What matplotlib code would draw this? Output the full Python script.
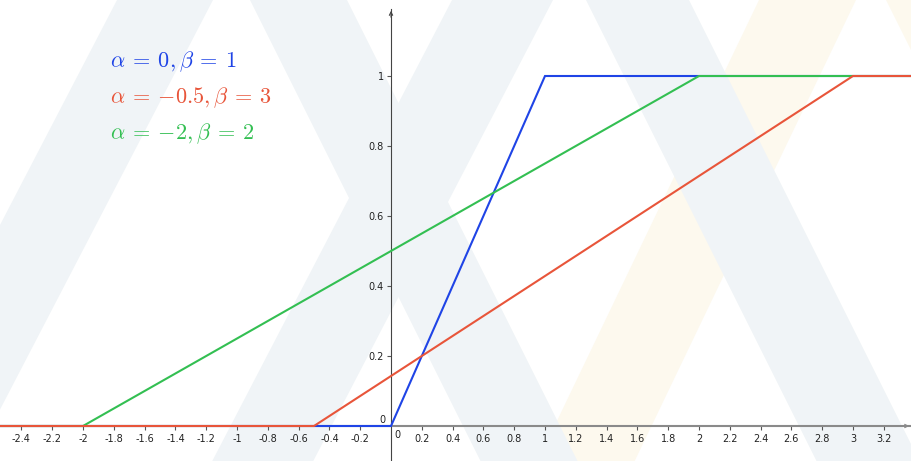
import matplotlib
matplotlib.use("Agg")
import matplotlib.pyplot as plt
from matplotlib.patches import Polygon

plt.rcParams['mathtext.fontset'] = 'cm'
plt.rcParams['font.family'] = ['DejaVu Sans']

# ---- data ----
alphas = [0, -0.5, -2]
betas = [1, 3, 2]
labels = [r'$\alpha \:=\: 0, \beta \:=\: 1$',
          r'$\alpha \:=\: -0.5, \beta \:=\: 3$',
          r'$\alpha \:=\: -2, \beta \:=\: 2$']
colors = ['#1f44e6', '#e8553a', '#33bf52']
draw_order = [0, 2, 1]
xticks = [-2.4, -2.2, -2, -1.8, -1.6, -1.4, -1.2, -1, -0.8, -0.6, -0.4, -0.2,
          0.2, 0.4, 0.6, 0.8, 1, 1.2, 1.4, 1.6, 1.8, 2, 2.2, 2.4, 2.6, 2.8, 3, 3.2]
yticks = [0.2, 0.4, 0.6, 0.8, 1]

W, H = 912, 461
x0px, y0px, sx, sy = 391, 426, 154, 350
xmin, xmax = -x0px / sx, (W - x0px) / sx
ymin, ymax = -(H - y0px) / sy, y0px / sy

fig = plt.figure(figsize=(W / 100, H / 100), dpi=100)
fig.patch.set_facecolor('white')

ax = fig.add_axes([0, 0, 1, 1])
ax.set_facecolor('white')
ax.set_xlim(xmin, xmax)
ax.set_ylim(ymin, ymax)

# ---- faint background watermark bands (figure pixel coords) ----
bands = [
    (759, 856, -0.48, '#fdf9ee'), (886, 989, 0.5, '#fdf9ee'),
    (117, 213, -0.52, '#f0f4f7'), (250, 347, 0.5, '#f0f4f7'),
    (452, 553, -0.52, '#f0f4f7'), (586, 689, 0.5, '#f0f4f7'),
]
for a, b, s, c in bands:
    pts = [(a, 0), (b, 0), (b + s * H, H), (a + s * H, H)]
    ax.add_patch(Polygon([(px / W, 1 - py / H) for px, py in pts],
                         closed=True, transform=fig.transFigure,
                         facecolor=c, edgecolor='none', zorder=0))

# ---- curves (uniform CDFs) ----
for k, i in enumerate(draw_order):
    a, b, c = alphas[i], betas[i], colors[i]
    ax.plot([xmin, a, b, xmax], [0, 0, 1, 1], color=c, lw=1.5, zorder=4 + k,
            solid_joinstyle='miter')

# ---- axes ----
for s in ['top', 'right']:
    ax.spines[s].set_visible(False)
ax.spines['bottom'].set_position(('data', 0))
ax.spines['left'].set_position(('data', 0))
ax.spines['bottom'].set_color('#8a8a8a')
ax.spines['bottom'].set_linewidth(1.5)
ax.spines['left'].set_color('#444444')
ax.spines['left'].set_linewidth(0.8)
ax.spines['left'].set_bounds(ymin, (y0px - 9) / sy)

ax.set_xticks(xticks)
ax.set_xticklabels([('%g' % t) for t in xticks])
ax.set_yticks(yticks)
ax.set_yticklabels([('%g' % t) for t in yticks])
ax.tick_params(axis='x', direction='out', length=3, width=0.8, color='#555555',
               labelsize=7, pad=3, labelcolor='#222222')
ax.tick_params(axis='y', direction='out', length=3, width=0.8, color='#555555',
               labelsize=7, pad=2, labelcolor='#222222')

ax.text(6 / sx, -4 / sy, '0', fontsize=7, color='#222222', ha='center', va='top')
ax.text(-5 / sx, 6 / sy, '0', fontsize=7, color='#222222', ha='right', va='center')

# arrows
ax.annotate('', xy=(0, (y0px - 8) / sy), xytext=(0, (y0px - 20) / sy),
            arrowprops=dict(arrowstyle='->', color='#444444', lw=0.8,
                            mutation_scale=6))
ax.annotate('', xy=(xmax, 0), xytext=(xmax - 12 / sx, 0),
            arrowprops=dict(arrowstyle='->', color='#8a8a8a', lw=0.8,
                            mutation_scale=6))

# ---- legend texts ----
ys = [62, 98, 134]
for lab, c, yp in zip(labels, colors, ys):
    ax.text((110 - x0px) / sx, (y0px - yp) / sy, lab, color=c, fontsize=16,
            ha='left', va='center')

fig.savefig('out.png', dpi=100)
